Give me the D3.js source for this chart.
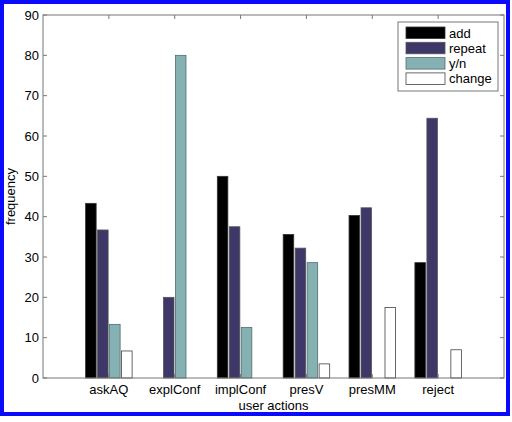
<!DOCTYPE html>
<html>
<head>
<meta charset="utf-8">
<script src="https://cdn.jsdelivr.net/npm/d3@7"></script>
<style>
  body { margin: 0; background: #fff; }
  text { font-family: "Liberation Sans", Arial, Helvetica, sans-serif; }
</style>
</head>
<body>
<svg id="chart" width="512" height="422"></svg>
<script>
const categories = ["askAQ", "explConf", "implConf", "presV", "presMM", "reject"];
const seriesNames = ["add", "repeat", "y/n", "change"];
const addValues = [43.3, 0, 50.0, 35.6, 40.3, 28.6];
const repeatValues = [36.7, 20.0, 37.5, 32.2, 42.2, 64.4];
const ynValues = [13.3, 80.0, 12.5, 28.6, 0, 0];
const changeValues = [6.7, 0, 0, 3.5, 17.5, 7.0];
const yTicks = [0, 10, 20, 30, 40, 50, 60, 70, 80, 90];

const series = [addValues, repeatValues, ynValues, changeValues];
const fills = ["#000000", "#3d3868", "#86b1b3", "#ffffff"];
const strokes = ["#333", "#555", "#4f6e70", "#444"];

const svg = d3.select("#chart");
const margin = { top: 15, right: 8, bottom: 44, left: 43 };
const W = 512, H = 422;

// blue frame around everything
svg.append("rect")
  .attr("x", 2).attr("y", 2)
  .attr("width", 506).attr("height", 412)
  .attr("fill", "#fff")
  .attr("stroke", "#0a0aff")
  .attr("stroke-width", 4);

// matlab style x: groups at 1..n, limits [0, n+1]
const x = d3.scaleLinear()
  .domain([0, categories.length + 1])
  .range([margin.left, W - margin.right]);
const y = d3.scaleLinear()
  .domain([0, 90])
  .range([H - margin.bottom, margin.top]);

const step = 0.182;     // offset between bars in a group (x units)
const barW = 0.16;      // bar width (x units)
const pxW = x(barW) - x(0);

series.forEach((vals, s) => {
  svg.append("g")
    .selectAll("rect")
    .data(vals)
    .join("rect")
    .attr("x", (d, i) => x(i + 1 + (s - 1.5) * step) - pxW / 2)
    .attr("y", d => y(d))
    .attr("width", pxW)
    .attr("height", d => y(0) - y(d))
    .attr("fill", fills[s])
    .attr("stroke", strokes[s])
    .attr("stroke-width", 0.8);
});

// axes box
const axisColor = "#777";
const xL = x.range()[0], xR = x.range()[1];
const yT = y.range()[1], yB = y.range()[0];
svg.append("rect")
  .attr("x", xL).attr("y", yT)
  .attr("width", xR - xL).attr("height", yB - yT)
  .attr("fill", "none")
  .attr("stroke", axisColor)
  .attr("stroke-width", 1);

// y ticks (inside, both sides)
const yt = svg.append("g");
yTicks.forEach(t => {
  yt.append("line").attr("x1", xL).attr("x2", xL + 4)
    .attr("y1", y(t)).attr("y2", y(t)).attr("stroke", axisColor);
  yt.append("line").attr("x1", xR).attr("x2", xR - 4)
    .attr("y1", y(t)).attr("y2", y(t)).attr("stroke", axisColor);
  yt.append("text")
    .attr("x", xL - 4)
    .attr("y", y(t) + 4.5)
    .attr("text-anchor", "end")
    .attr("font-size", 13)
    .attr("fill", "#000")
    .text(t);
});

// x ticks (inside, top and bottom) and labels
const xt = svg.append("g");
categories.forEach((c, i) => {
  const cx = x(i + 1);
  xt.append("line").attr("x1", cx).attr("x2", cx)
    .attr("y1", yT).attr("y2", yT + 4).attr("stroke", axisColor);
  xt.append("line").attr("x1", cx).attr("x2", cx)
    .attr("y1", yB).attr("y2", yB - 4).attr("stroke", axisColor);
  xt.append("text")
    .attr("x", cx)
    .attr("y", yB + 16)
    .attr("text-anchor", "middle")
    .attr("font-size", 13)
    .attr("fill", "#000")
    .text(c);
});

// axis titles
svg.append("text")
  .attr("x", (xL + xR) / 2)
  .attr("y", 410)
  .attr("text-anchor", "middle")
  .attr("font-size", 13)
  .attr("fill", "#000")
  .text("user actions");
svg.append("text")
  .attr("transform", `translate(15,${(yT + yB) / 2}) rotate(-90)`)
  .attr("text-anchor", "middle")
  .attr("font-size", 13)
  .attr("fill", "#000")
  .text("frequency");

// legend
const lg = svg.append("g").attr("transform", "translate(398,22)");
lg.append("rect")
  .attr("width", 100).attr("height", 69)
  .attr("fill", "#fff")
  .attr("stroke", axisColor);
seriesNames.forEach((n, i) => {
  lg.append("rect")
    .attr("x", 8).attr("y", 5 + i * 15.3)
    .attr("width", 39).attr("height", 11.5)
    .attr("fill", fills[i])
    .attr("stroke", strokes[i])
    .attr("stroke-width", 0.8);
  lg.append("text")
    .attr("x", 51)
    .attr("y", 15.5 + i * 15.3)
    .attr("font-size", 13)
    .attr("fill", "#000")
    .text(n);
});
</script>
</body>
</html>
